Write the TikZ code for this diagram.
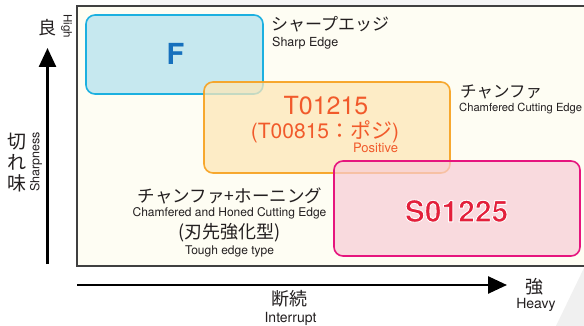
\documentclass[tikz,border=0pt]{standalone}
\usepackage{fontspec}
\setmainfont{TeX Gyre Heros}
\newfontfamily\jp{Noto Sans CJK JP}
\usetikzlibrary{arrows.meta}
\definecolor{panelbg}{HTML}{FEFDF3}
\definecolor{bluefill}{HTML}{C6E8EF}
\definecolor{bluedraw}{HTML}{1CB0E0}
\definecolor{bluetext}{HTML}{1670BD}
\definecolor{orfill}{HTML}{FDE7B8}
\definecolor{ordraw}{HTML}{F7A01C}
\definecolor{ortext}{HTML}{F15A2B}
\definecolor{pkfill}{HTML}{F8CCD6}
\definecolor{pkdraw}{HTML}{E6157E}
\definecolor{pktext}{HTML}{E3203B}
\definecolor{txt}{HTML}{231F20}
\tikzset{
  zone/.style={rounded corners=9pt, line width=1.6pt},
  jlab/.style={font=\jp\fontsize{17}{18}\selectfont, text=txt, inner sep=0pt},
  elab/.style={font=\fontsize{12}{13}\selectfont, text=txt, inner sep=0pt},
  axarrow/.style={line width=2.6pt, -{Triangle[length=19pt,width=17pt]}},
  sfont/.style={font=\fontsize{30}{32}\selectfont\bfseries},
}
\begin{document}
\begin{tikzpicture}[x=1pt,y=-1pt]
\useasboundingbox (0,0) rectangle (584,326);
\fill[white] (0,0) rectangle (584,326);
\fill[gray!12] (556,326) -- (584,268) -- (584,326) -- cycle;
\fill[gray!8] (140,0) rectangle (540,6);
% panel
\draw[fill=panelbg, line width=1.2pt, draw=black!75] (600,6) -- (77,6) -- (77,266) -- (600,266);
% zones
\draw[zone, fill=bluefill, draw=bluedraw] (86,15) rectangle (263,94);
\node[font=\fontsize{29}{30}\selectfont\bfseries, text=bluetext] (F) at (175.5,53.5) {F};
\draw[zone, fill=orfill, fill opacity=0.75, draw=ordraw, draw opacity=0.9] (204,82) rectangle (450,173);
\node[font=\fontsize{25}{26}\selectfont, text=ortext] (T1) at (326,106) {T01215};
\node[font=\fontsize{21}{22}\selectfont, text=ortext] (T2) at (325,131.5) {(T00815{\jp：ポジ})};
\node[font=\fontsize{13}{14}\selectfont, text=ortext] (pos) at (375.5,148) {Positive};
\draw[zone, fill=pkfill, fill opacity=0.7, draw=pkdraw] (334,161) rectangle (580,256);
\node[sfont, text=pktext] (S) at (456.5,211) {\special{pdf:literal direct 1 1 1 RG 0.9 w 2 Tr}S01225\special{pdf:literal direct 0 Tr}};
% labels
\node[jlab, anchor=west] (sj) at (271,24) {シャープエッジ};
\node[elab, anchor=west, font=\fontsize{12.5}{13}\selectfont] (se) at (272,43) {Sharp Edge};
\node[jlab, anchor=west, font=\jp\fontsize{16.5}{18}\selectfont] (cj) at (460,92) {チャンファ};
\node[elab, anchor=west, font=\fontsize{11.2}{12}\selectfont] (ce) at (459,109) {Chamfered Cutting Edge};
\node[jlab, font=\jp\fontsize{17.5}{18}\selectfont] (hj) at (230,196) {チャンファ+ホーニング};
\node[elab] (he) at (229.5,213) {Chamfered and Honed Cutting Edge};
\node[jlab, font=\jp\fontsize{18}{19}\selectfont] (tj) at (229.5,233) {(刃先強化型)};
\node[elab] (te) at (229.5,251) {Tough edge type};
% vertical axis
\coordinate (vb) at (47.5,264);
\coordinate (vt) at (47.5,48);
\draw[axarrow] (vb) -- (vt);
\node[jlab, font=\jp\fontsize{18}{20}\selectfont] (ry) at (47,28) {良};
\node[elab, rotate=-90, font=\fontsize{11.5}{12}\selectfont] (hi) at (66.5,26) {High};
\node[jlab, font=\jp\fontsize{19}{21}\selectfont, align=center] (kr) at (17.5,163) {切\\れ\\味};
\node[elab, rotate=90, font=\fontsize{12.5}{13}\selectfont] (sh) at (36,162) {Sharpness};
% horizontal axis
\coordinate (hl) at (77,285);
\coordinate (hr) at (507,285);
\draw[axarrow] (hl) -- (hr);
\node[jlab, font=\jp\fontsize{18}{20}\selectfont] (dz) at (289,299) {断続};
\node[elab, font=\fontsize{14}{15}\selectfont] (ir) at (290.5,319) {Interrupt};
\node[jlab, font=\jp\fontsize{18}{20}\selectfont] (ky) at (534,287) {強};
\node[elab, font=\fontsize{14}{15}\selectfont] (hv) at (536,305) {Heavy};
\end{tikzpicture}
\end{document}
